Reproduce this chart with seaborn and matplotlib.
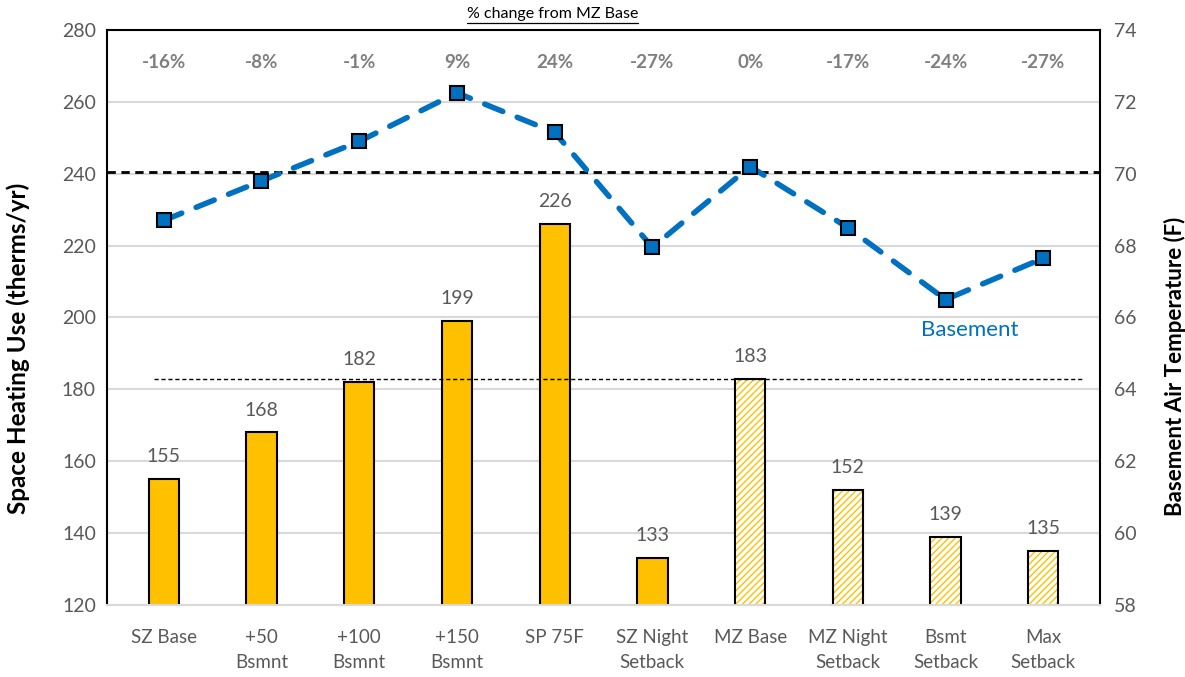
import numpy as np
import pandas as pd
import matplotlib
matplotlib.use("Agg")
import matplotlib.pyplot as plt
from matplotlib.patches import Rectangle
from matplotlib.lines import Line2D
import seaborn as sns

# --- data -------------------------------------------------------------
categories = ["SZ Base", "+50\nBsmnt", "+100\nBsmnt", "+150\nBsmnt", "SP 75F",
              "SZ Night\nSetback", "MZ Base", "MZ Night\nSetback", "Bsmt\nSetback", "Max\nSetback"]
heating_use = [155, 168, 182, 199, 226, 133, 183, 152, 139, 135]
basement_temp = [68.7, 69.8, 70.9, 72.25, 71.15, 67.95, 70.2, 68.5, 66.5, 67.65]
pct_change = ["-16%", "-8%", "-1%", "9%", "24%", "-27%", "0%", "-17%", "-24%", "-27%"]
multizone = [False, False, False, False, False, False, True, True, True, True]
mz_base_use = 183
mz_base_temp_line = 70.05

GOLD = "#FFC000"
BLUE = "#0070C0"
GRAY = "#595959"

sns.set_theme(style="white")
plt.rcParams["font.family"] = ["Lato", "DejaVu Sans"]

df = pd.DataFrame({"case": categories, "use": heating_use})

fig = plt.figure(figsize=(11.85, 6.77), dpi=100)
ax = fig.add_axes([0.0903, 0.1064, 0.8380, 0.8493])

sns.barplot(data=df, x="case", y="use", order=categories, color=GOLD,
            width=0.31, edgecolor="black", linewidth=1.5, saturation=1, ax=ax)

# hatched fill for the multi-zone cases, with a separate black outline
for patch, mz in zip(ax.patches, multizone):
    if mz:
        x0, y0 = patch.get_x(), patch.get_y()
        w, h = patch.get_width(), patch.get_height()
        patch.set_facecolor("white")
        patch.set_edgecolor(GOLD)
        patch.set_hatch("/////")
        patch.set_linewidth(0)
        ax.add_patch(Rectangle((x0, y0), w, h, fill=False, edgecolor="black",
                               linewidth=1.5, zorder=patch.get_zorder() + 0.1))

ax.set_ylim(120, 280)
ax.set_yticks(np.arange(120, 281, 20))
ax.set_xlim(-0.58, len(categories) - 0.42)
ax.yaxis.grid(True, color="#D9D9D9", linewidth=1.5)
ax.set_axisbelow(True)
ax.tick_params(axis="both", length=0, colors=GRAY, labelsize=14, pad=8)
ax.tick_params(axis="x", labelsize=13.5, pad=17)
for lbl in ax.get_xticklabels():
    lbl.set_linespacing(1.6)
ax.set_xlabel("")
ax.set_ylabel("Space Heating Use (therms/yr)", fontsize=17.5, fontweight="bold",
              color="black")
ax.yaxis.set_label_coords(-0.078, 0.447)

for sp in ["left", "top", "right"]:
    ax.spines[sp].set_color("black")
    ax.spines[sp].set_linewidth(1.5)
ax.spines["bottom"].set_color("#D9D9D9")
ax.spines["bottom"].set_linewidth(1.5)

# value labels above bars
for i, v in enumerate(heating_use):
    ax.annotate(f"{v}", (i, v), xytext=(0, 10), textcoords="offset points",
                ha="center", va="bottom", fontsize=14, color=GRAY)

# reference line at the MZ Base heating use
ax.plot([0 - 0.1, len(categories) - 1 + 0.4], [mz_base_use, mz_base_use],
        linestyle=(0, (3, 2)), color="black", linewidth=1, zorder=3)

# percent change row
for i, p in enumerate(pct_change):
    ax.text(i, 271, p, ha="center", va="center", fontsize=13.5,
            fontweight="bold", color="#7F7F7F")

# basement temperature on the secondary axis
ax2 = ax.twinx()
sns.lineplot(x=np.arange(len(categories)), y=basement_temp, ax=ax2, color=BLUE,
             linewidth=4, marker="s", markersize=10, markerfacecolor=BLUE,
             markeredgecolor="black", markeredgewidth=1.5)
ax2.lines[0].set_dashes((3.5, 2.8))
ax2.lines[0].set_dash_capstyle("round")
ax2.set_ylim(58, 74)
ax2.set_yticks(np.arange(58, 75, 2))
ax2.tick_params(axis="y", length=0, colors=GRAY, labelsize=14, pad=10)
ax2.set_ylabel("Basement Air Temperature (F)", fontsize=16, fontweight="bold",
               color="black")
ax2.yaxis.set_label_coords(1.064, 0.415)
ax2.grid(False)
for sp in ax2.spines.values():
    sp.set_visible(False)
ax2.axhline(mz_base_temp_line, color="black", linestyle=(0, (3, 2)),
            linewidth=2, zorder=1)
ax2.text(8.25, 65.65, "Basement", color=BLUE, fontsize=16, ha="center", va="center")

# underlined heading
title = fig.text(0.4665, 0.979, "% change from MZ Base", ha="center", va="center",
                 fontsize=11.5, color="black")
fig.canvas.draw()
bb = title.get_window_extent().transformed(fig.transFigure.inverted())
fig.add_artist(Line2D([bb.x0, bb.x1], [bb.y0 - 0.002, bb.y0 - 0.002],
                      color="black", linewidth=0.9, transform=fig.transFigure))

fig.savefig("out.png", dpi=100)
